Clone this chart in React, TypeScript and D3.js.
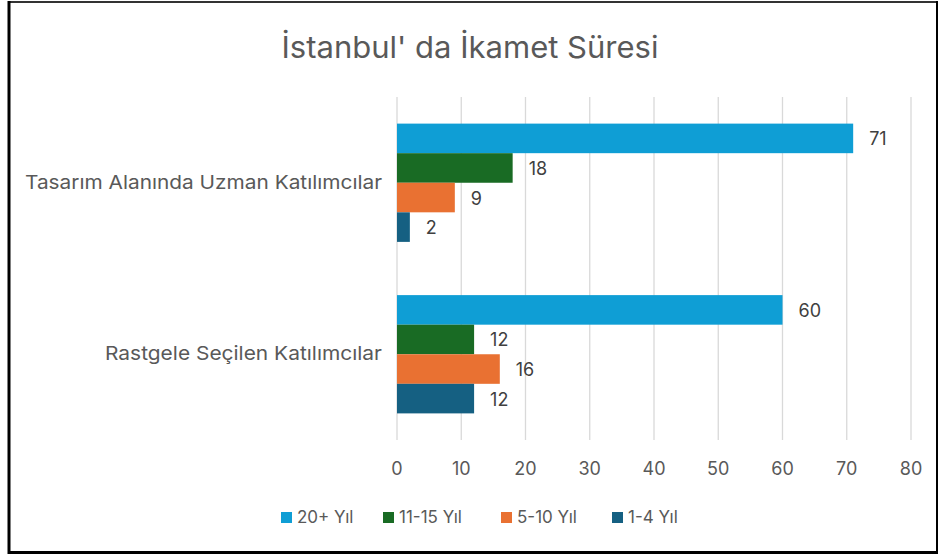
import { useEffect, useRef } from 'react';
import * as d3 from 'd3';

const CATEGORIES = ['Tasarım Alanında Uzman Katılımcılar', 'Rastgele Seçilen Katılımcılar'];
const SERIES = ['20+ Yıl', '11-15 Yıl', '5-10 Yıl', '1-4 Yıl'];
const COLORS = ['#0F9ED5', '#196B24', '#E97132', '#156082'];
const UZMAN = [71, 18, 9, 2];
const RASTGELE = [60, 12, 16, 12];
const X_TICKS = [0, 10, 20, 30, 40, 50, 60, 70, 80];

const W = 940, H = 555;
const FONT = 'Inter, "Noto Sans", sans-serif';
const GRAY = '#595959';

export default function App() {
  const svgRef = useRef<SVGSVGElement>(null);

  useEffect(() => {
    if (!svgRef.current) return;
    const svg = d3.select(svgRef.current);
    svg.selectAll('*').remove();

    const rows = [UZMAN, RASTGELE];
    const labelWidths = [357, 277];
    const plot = { left: 397, right: 911, top: 97, bottom: 440 };

    svg.append('rect').attr('width', W).attr('height', H).attr('fill', '#fff');

    const x = d3.scaleLinear().domain([0, 80]).range([plot.left, plot.right]);
    const y0 = d3.scaleBand<string>().domain(CATEGORIES).range([plot.top, plot.bottom]);
    const y1 = d3.scaleBand<string>().domain(SERIES).range([0, y0.bandwidth()])
      .paddingInner(0).paddingOuter(0.9);

    // title
    svg.append('text')
      .attr('x', 470).attr('y', 58)
      .attr('text-anchor', 'middle')
      .attr('font-family', FONT).attr('font-size', 30)
      .attr('fill', GRAY)
      .attr('textLength', 377).attr('lengthAdjust', 'spacingAndGlyphs')
      .text("İstanbul' da İkamet Süresi");

    // gridlines
    svg.append('g').selectAll('line').data(X_TICKS).join('line')
      .attr('x1', (d) => x(d)).attr('x2', (d) => x(d))
      .attr('y1', plot.top).attr('y2', plot.bottom)
      .attr('stroke', '#d9d9d9').attr('stroke-width', 1.3);

    // tick labels
    svg.append('g').selectAll('text').data(X_TICKS).join('text')
      .attr('x', (d) => x(d)).attr('y', 475)
      .attr('text-anchor', 'middle')
      .attr('font-family', FONT).attr('font-size', 18)
      .attr('fill', GRAY)
      .text((d) => d);

    // bars
    CATEGORIES.forEach((cat, ci) => {
      const g = svg.append('g').attr('transform', `translate(0,${y0(cat)})`);
      g.selectAll('rect').data(rows[ci]).join('rect')
        .attr('x', x(0))
        .attr('y', (_, i) => y1(SERIES[i])!)
        .attr('width', (d) => x(d) - x(0))
        .attr('height', y1.bandwidth())
        .attr('fill', (_, i) => COLORS[i]);

      g.selectAll('text.val').data(rows[ci]).join('text')
        .attr('class', 'val')
        .attr('x', (d) => x(d) + 16)
        .attr('y', (_, i) => y1(SERIES[i])! + y1.bandwidth() / 2 + 7)
        .attr('font-family', FONT).attr('font-size', 18)
        .attr('fill', '#404040')
        .text((d) => d);

      svg.append('text')
        .attr('x', 382 - labelWidths[ci]).attr('y', y0(cat)! + y0.bandwidth() / 2 + 6)
        .attr('font-family', FONT).attr('font-size', 19)
        .attr('fill', GRAY)
        .attr('textLength', labelWidths[ci]).attr('lengthAdjust', 'spacingAndGlyphs')
        .text(cat);
    });

    // legend
    const legendX = [281, 383, 501, 612];
    const lg = svg.append('g');
    SERIES.forEach((s, i) => {
      lg.append('rect')
        .attr('x', legendX[i]).attr('y', 512)
        .attr('width', 11).attr('height', 11)
        .attr('fill', COLORS[i]);
      lg.append('text')
        .attr('x', legendX[i] + 16).attr('y', 523)
        .attr('font-family', FONT).attr('font-size', 17)
        .attr('fill', GRAY)
        .text(s);
    });

    // frame
    svg.append('line').attr('x1', 8).attr('x2', 938).attr('y1', 2).attr('y2', 2)
      .attr('stroke', '#333').attr('stroke-width', 2);
    svg.append('line').attr('x1', 9).attr('x2', 9).attr('y1', 1).attr('y2', 554)
      .attr('stroke', '#000').attr('stroke-width', 3);
    svg.append('line').attr('x1', 8).attr('x2', 938).attr('y1', 552.5).attr('y2', 552.5)
      .attr('stroke', '#000').attr('stroke-width', 3);
    svg.append('line').attr('x1', 937).attr('x2', 937).attr('y1', 1).attr('y2', 554)
      .attr('stroke', '#000').attr('stroke-width', 2);
  }, []);

  return (
    <svg
      ref={svgRef}
      width={W}
      height={H}
      viewBox={`0 0 ${W} ${H}`}
      style={{ position: 'absolute', top: 0, left: 0, display: 'block' }}
    />
  );
}
